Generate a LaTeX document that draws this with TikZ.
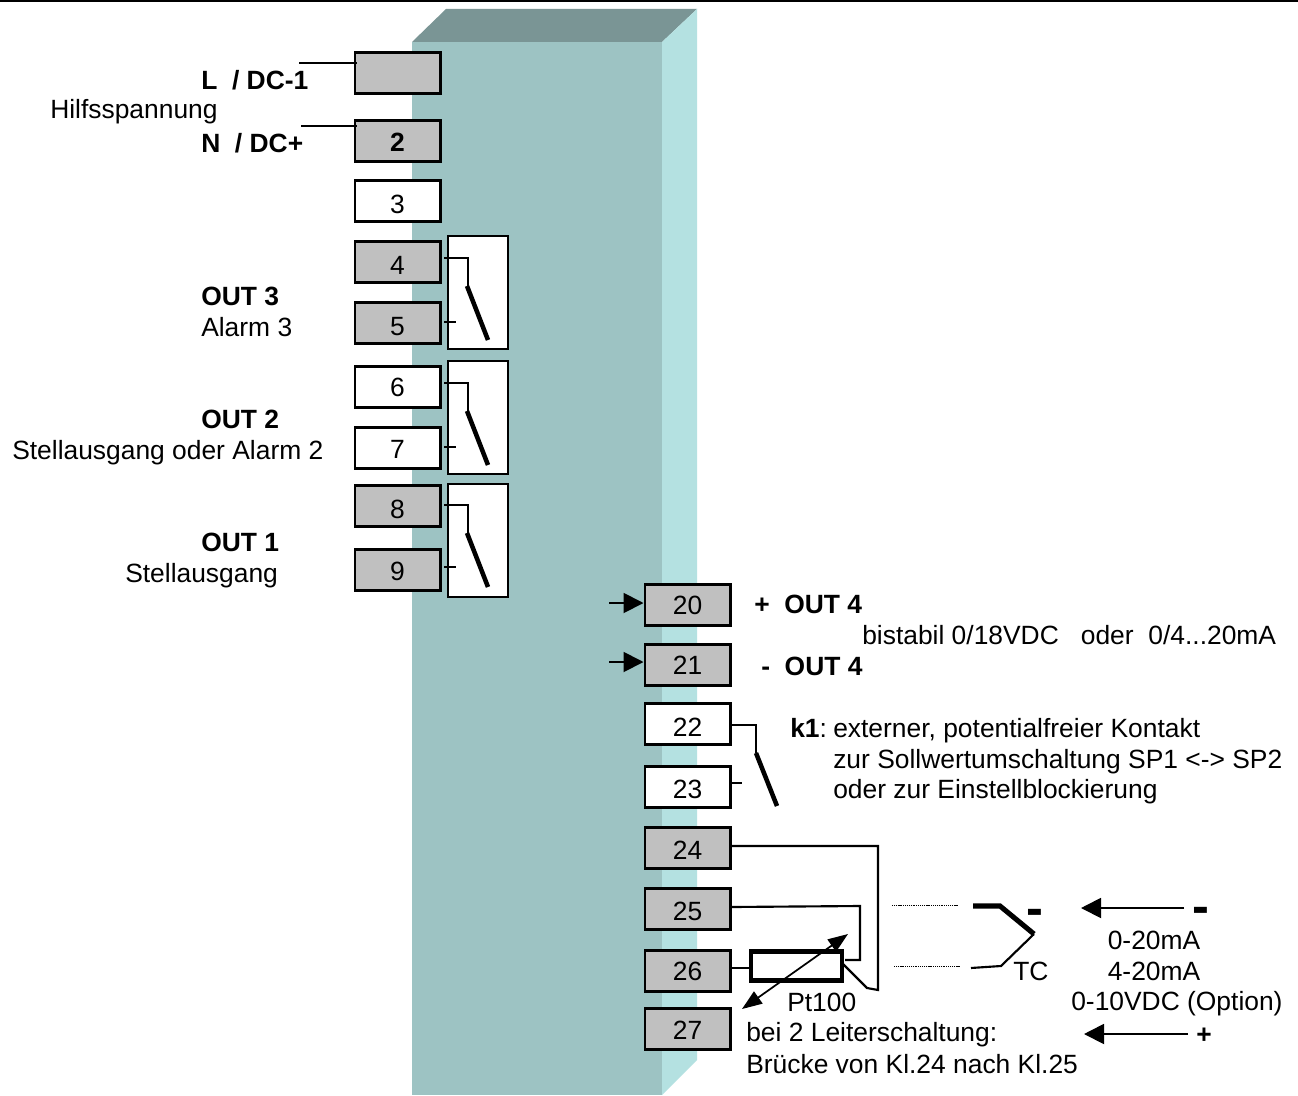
\documentclass[tikz,border=0pt]{standalone}
\usepackage{fontspec}
\setmainfont{Liberation Sans}
\usetikzlibrary{arrows.meta}
\definecolor{blockfront}{HTML}{9DC3C3}
\definecolor{blocktop}{HTML}{7A9595}
\definecolor{blockside}{HTML}{B4E1E1}
\definecolor{termgray}{HTML}{C0C0C0}
\newcommand{\txtsize}{\fontsize{19.8pt}{23pt}\selectfont}
\tikzset{
  x=0.75pt,y=-0.75pt,
  terminal/.style={draw=black,line width=2pt,minimum width=64pt,minimum height=30.5pt,inner sep=0pt,text height=18.5pt,text depth=0pt,font=\txtsize},
  gray term/.style={terminal,fill=termgray},
  white term/.style={terminal,fill=white},
  up1/.style={text height=17pt},
  up2/.style={text height=15.5pt},
  up3/.style={text height=14pt},
  relay/.style={draw=black,fill=white,line width=1.1pt,minimum width=45pt,minimum height=85pt,inner sep=0pt},
  lab/.style={anchor=base west,inner sep=0pt,font=\txtsize},
  clab/.style={anchor=base,inner sep=0pt,font=\txtsize},
  wire/.style={line width=1.6pt,line join=miter},
  blade/.style={line width=3.4pt},
  dotline/.style={line width=0.6pt,dash pattern=on 0.8pt off 0.6pt},
  feed/.style={line width=1.4pt,-{Triangle[length=15pt,width=15pt]}},
  sign/.style={anchor=center,inner sep=0pt,font=\fontsize{38pt}{38pt}\selectfont\bfseries},
}
\begin{document}
\begin{tikzpicture}
\useasboundingbox (0,0) rectangle (1298,1095);
\fill[white] (0,0) rectangle (1298,1095);
\fill[black] (0,0) rectangle (1298,2);
% block
\fill[blockfront] (412,42) rectangle (662,1095);
\fill[blocktop] (412,42) -- (446,9) -- (697,9) -- (662,42) -- cycle;
\fill[blockside] (662,42) -- (697,9) -- (697,1060) -- (662,1095) -- cycle;
% relay boxes
\node[relay] (r1) at (478,292.5) {};
\node[relay] (r2) at (478,417.5) {};
\node[relay] (r3) at (478,540.5) {};
% terminals
\node[gray term] (t1) at (397.5,73) {};
\node[gray term,up2] (t2) at (397.5,141) {\bfseries 2};
\node[white term] (t3) at (397.5,201) {3};
\node[gray term] (t4) at (397.5,262) {4};
\node[gray term] (t5) at (397.5,323) {5};
\node[white term,up3] (t6) at (397.5,387) {6};
\node[white term,up2] (t7) at (397.5,448) {7};
\node[gray term] (t8) at (397.5,506) {8};
\node[gray term,up2] (t9) at (397.5,570) {9};
\node[gray term,up3] (t20) at (687.5,605) {20};
\node[gray term,up3] (t21) at (687.5,665) {21};
\node[white term] (t22) at (687.5,724) {22};
\node[white term,up1] (t23) at (687.5,787) {23};
\node[gray term,up1] (t24) at (687.5,848) {24};
\node[gray term,up1] (t25) at (687.5,909) {25};
\node[gray term,up3] (t26) at (687.5,971) {26};
\node[gray term,up2] (t27) at (687.5,1029) {27};
% supply leads
\coordinate (s1) at (299,63);
\coordinate (s2) at (301,126);
\draw[wire] (s1) -- (357,63);
\draw[wire] (s2) -- (357,126);
% relay contacts
\foreach \n/\a/\b in {1/258/322,2/383/447,3/505/567}{
  \draw[wire] (444,\a) -- (468,\a) -- (468,\a+28);
  \draw[blade] (467,\a+28) -- (488,\a+82);
  \draw[wire] (444,\b) -- (456,\b);
}
% feeds 20/21
\coordinate (f20) at (609,603);
\coordinate (f21) at (609,662);
\draw[feed] (f20) -- (t20.west |- f20);
\draw[feed] (f21) -- (t21.west |- f21);
% k1 contact
\coordinate (k1a) at (756,725);
\coordinate (k1b) at (756,753);
\coordinate (k1c) at (777,806);
\coordinate (k2a) at (742,783);
\draw[wire] (t22.east |- k1a) -- (k1a) -- (k1b);
\draw[blade] (k1b) -- (k1c);
\draw[wire] (t23.east |- k2a) -- (k2a);
% Pt100 wiring
\node[draw=black,fill=none,line width=3.4pt,minimum width=68pt,minimum height=22pt,inner sep=0pt] (pt) at (796.5,966) {};
\coordinate (c24a) at (878,846);
\coordinate (c24b) at (878,990);
\coordinate (c24c) at (867,988);
\coordinate (c25a) at (860,906);
\coordinate (c25b) at (860,960);
\coordinate (c26a) at (749,968);
\coordinate (pt1) at (843,964);
\draw[wire] (t24.east |- c24a) -- (c24a) -- (c24b) -- (c24c) -- (pt1);
\draw[wire] (t25.east |- 0,907) -- (c25a) -- (c25b) -- (845,960);
\draw[wire] (t26.east |- c26a) -- (c26a);
\coordinate (ra) at (742,1009);
\coordinate (rb) at (848,934);
\draw[line width=1.3pt,{Triangle[length=15pt,width=11pt]}-{Triangle[length=15pt,width=11pt]}] (ra) -- (rb);
% thermocouple
\coordinate (d1a) at (892,905);
\coordinate (d1b) at (958,905);
\coordinate (d2a) at (894,966);
\coordinate (d2b) at (960,966);
\draw[dotline] (d1a) -- (d1b);
\draw[dotline] (d2a) -- (d2b);
\coordinate (tc1) at (973,906);
\coordinate (tc2) at (1000,906);
\coordinate (tc3) at (1034,934);
\coordinate (tc4) at (1001,966);
\coordinate (tc5) at (971,968);
\draw[line width=3.8pt,line join=miter] (tc1) -- (tc2) -- (tc3);
\draw[wire] (tc3) -- (tc4) -- (tc5);
% current input arrows
\coordinate (a1a) at (1184,908);
\coordinate (a1b) at (1081,908);
\coordinate (a2a) at (1188,1034);
\coordinate (a2b) at (1084,1034);
\draw[feed] (a1a) -- (a1b);
\draw[feed] (a2a) -- (a2b);
% signs
\node[sign] (m1) at (1035,917) {-};
\node[sign] (m2) at (1201,915) {-};
\node[clab,font=\txtsize\bfseries] (p1) at (1204,1043) {+};
% labels
\node[lab,font=\txtsize\bfseries] (l1) at (201,90) {L\ \ / DC-1};
\node[lab] (l2) at (50,119) {Hilfsspannung};
\node[lab,font=\txtsize\bfseries] (l3) at (201,152) {N\ \ / DC+};
\node[lab,font=\txtsize\bfseries] (l4) at (201,305) {OUT 3};
\node[lab] (l5) at (201,336) {Alarm 3};
\node[lab,font=\txtsize\bfseries] (l6) at (201,428) {OUT 2};
\node[lab] (l7) at (12,459) {Stellausgang oder Alarm 2};
\node[lab,font=\txtsize\bfseries] (l8) at (201,551) {OUT 1};
\node[lab] (l9) at (125,582) {Stellausgang};
\node[lab,font=\txtsize\bfseries] (o1) at (754,613) {+\ \ OUT 4};
\node[lab] (o2) at (862,644) {bistabil 0/18VDC\ \ \ oder\ \ 0/4...20mA};
\node[lab,font=\txtsize\bfseries] (o3) at (761,675) {-\ \ OUT 4};
\node[lab] (k0) at (790,737) {\textbf{k1}:};
\node[lab] (k1) at (833,737) {externer, potentialfreier Kontakt};
\node[lab] (k2) at (833,768) {zur Sollwertumschaltung SP1 <-> SP2};
\node[lab] (k3) at (833,798) {oder zur Einstellblockierung};
\node[lab] (pl) at (787,1011) {Pt100};
\node[lab] (tc) at (1013,980) {TC};
\node[clab] (i1) at (1154,949) {0-20mA};
\node[clab] (i2) at (1154,980) {4-20mA};
\node[lab] (i3) at (1071,1010) {0-10VDC (Option)};
\node[lab] (b1) at (746,1041) {bei 2 Leiterschaltung:};
\node[lab] (b2) at (746,1073) {Brücke von Kl.24 nach Kl.25};
\end{tikzpicture}
\end{document}
